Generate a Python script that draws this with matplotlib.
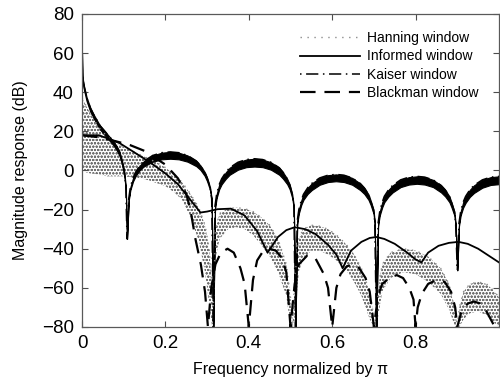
import numpy as np
import matplotlib
matplotlib.use('Agg')
import matplotlib.pyplot as plt

plt.rcParams['font.family'] = ['Liberation Sans', 'DejaVu Sans']
plt.rcParams['hatch.linewidth'] = 0.6

# Hanning window (dotted band: upper / lower envelope)
hann_x = [0.0, 0.01, 0.02, 0.04, 0.06, 0.08, 0.10, 0.12, 0.14, 0.16, 0.18, 0.20, 0.22, 0.24, 0.26, 0.28,
          0.295, 0.305, 0.312,
          0.315, 0.32, 0.33, 0.35, 0.37, 0.39, 0.41, 0.43, 0.45, 0.47, 0.49, 0.50, 0.505,
          0.51, 0.52, 0.53, 0.55, 0.57, 0.59, 0.61, 0.63, 0.65, 0.67, 0.69, 0.70, 0.705,
          0.71, 0.72, 0.74, 0.77, 0.80, 0.83, 0.86, 0.88, 0.895, 0.90,
          0.905, 0.915, 0.93, 0.95, 0.97, 0.99, 1.0]
hann_top = [37, 33, 29, 22, 17.5, 14, 12, 10, 8, 6, 4, 1.5, -2, -6, -12, -19,
            -28, -40, -60,
            -70, -30, -22, -19.5, -19, -19.5, -21, -24, -28, -35, -48, -65, -80,
            -55, -35, -30, -28, -28.5, -30, -33, -37, -42, -50, -62, -75, -80,
            -60, -48, -42, -40, -41, -44, -50, -58, -72, -80,
            -70, -62, -58, -57, -58, -62, -65]
hann_bot = [0, -1, -1.5, -2, -3, -3, -3, -3.5, -4, -5, -6.5, -8, -11, -15, -24, -36,
            -52, -68, -80,
            -80, -45, -35, -30, -29, -30, -33, -38, -44, -52, -64, -80, -80,
            -75, -52, -45, -41, -41, -43, -46, -50, -56, -64, -76, -80, -80,
            -75, -62, -55, -52, -53, -57, -63, -71, -80, -80,
            -80, -76, -73, -72, -74, -78, -80]

# Informed window (thin solid)
inf_x = [0, 0.04, 0.06, 0.09, 0.12, 0.164, 0.2, 0.23, 0.26, 0.284, 0.30, 0.325, 0.357, 0.39, 0.42, 0.445,
         0.47, 0.49, 0.51, 0.535, 0.56, 0.59, 0.61, 0.625, 0.645, 0.67, 0.69, 0.706, 0.725, 0.75, 0.78,
         0.80, 0.814, 0.83, 0.855, 0.88, 0.903, 0.925, 0.95, 0.975, 1.0]
inf_db = [18, 18, 16.5, 14, 10, 4, -1.5, -7, -15, -21.5, -21, -19.8, -19.5, -23, -31, -42,
          -34, -30.5, -29, -30, -32.5, -38, -43, -50, -41, -36.5, -34.5, -34, -35, -37.5, -42,
          -45.5, -47, -42, -38.5, -37, -36.5, -37.5, -40, -43.5, -47]

# Kaiser window (thick black band: upper / lower envelope)
kai_x = [0.0, 0.001, 0.005, 0.011, 0.02, 0.027, 0.035, 0.043, 0.055, 0.067, 0.075, 0.084, 0.09, 0.096,
         0.101, 0.105, 0.108,
         0.112, 0.116, 0.1225, 0.129, 0.139, 0.149, 0.170, 0.191, 0.2115, 0.232, 0.253, 0.274, 0.284,
         0.294, 0.300, 0.307, 0.311, 0.315,
         0.319, 0.323, 0.329, 0.335, 0.345, 0.354, 0.374, 0.394, 0.4135, 0.433, 0.453, 0.473, 0.482,
         0.492, 0.498, 0.504, 0.508, 0.512,
         0.516, 0.520, 0.526, 0.531, 0.541, 0.551, 0.570, 0.590, 0.609, 0.628, 0.648, 0.667, 0.677,
         0.687, 0.692, 0.699, 0.702, 0.706,
         0.710, 0.714, 0.720, 0.725, 0.735, 0.745, 0.764, 0.784, 0.803, 0.822, 0.842, 0.861, 0.871,
         0.881, 0.886, 0.893, 0.896, 0.900,
         0.904, 0.908, 0.914, 0.920, 0.930, 0.940, 0.960, 0.980, 1.0]
kai_top = [60, 48, 43, 37.5, 32, 29, 26, 23, 20, 17, 15, 12, 9.5, 5,
           0, -8, -35,
           -14.5, -8.5, -3.7, -0.7, 2.6, 4.9, 7.7, 9.1, 9.5, 9.1, 7.7, 4.9, 2.6,
           -0.7, -3.7, -8.5, -14.5, -80,
           -18, -12, -7.2, -4.2, -0.9, 1.4, 4.2, 5.6, 6, 5.6, 4.2, 1.4, -0.9,
           -4.2, -7.2, -12, -18, -80,
           -26, -20, -15.2, -12.2, -8.9, -6.6, -3.8, -2.4, -2, -2.4, -3.8, -6.6, -8.9,
           -12.2, -15.2, -20, -26, -80,
           -27, -21, -16.2, -13.2, -9.9, -7.6, -4.8, -3.4, -3, -3.4, -4.8, -7.6, -9.9,
           -13.2, -16.2, -21, -27, -51,
           -27, -21, -16.2, -13.2, -9.9, -7.6, -4.8, -3.4, -3]
kai_bot = [60, 46, 41, 35.5, 30, 27, 24, 21, 18, 15, 13, 10, 7.5, 3,
           -2, -10, -35,
           -15.5, -10, -5.5, -2.7, 0.3, 2.2, 4.5, 5.7, 6, 5.7, 4.5, 2.2, 0.3,
           -2.7, -5.5, -10, -15.5, -80,
           -19.5, -14, -9.6, -7, -4.2, -2.2, 0.4, 1.7, 2, 1.7, 0.4, -2.2, -4.2,
           -7, -9.6, -14, -19.5, -80,
           -27.5, -22, -17.5, -15, -12, -10, -7.3, -5.9, -5.5, -5.9, -7.3, -10, -12,
           -15, -17.5, -22, -27.5, -80,
           -28.5, -23, -18.8, -16.2, -13.3, -11.2, -8.5, -7.2, -6.8, -7.2, -8.5, -11.2, -13.3,
           -16.2, -18.8, -23, -28.5, -51,
           -28.5, -23, -19, -16.5, -13.5, -11.5, -8.8, -7.4, -7]

# Blackman window (dashed)
bl_x = [0, 0.04, 0.08, 0.115, 0.15, 0.2, 0.23, 0.25, 0.26, 0.272, 0.285, 0.295, 0.302,
        0.31, 0.32, 0.333, 0.349, 0.364, 0.38, 0.39, 0.40,
        0.41, 0.42, 0.435, 0.45, 0.465, 0.48, 0.49, 0.50,
        0.51, 0.52, 0.54, 0.56, 0.58, 0.59, 0.60,
        0.61, 0.62, 0.635, 0.65, 0.665, 0.68, 0.69, 0.70,
        0.71, 0.72, 0.74, 0.755, 0.77, 0.785, 0.795, 0.80,
        0.805, 0.815, 0.83, 0.85, 0.87, 0.885, 0.895, 0.90,
        0.91, 0.925, 0.94, 0.955, 0.97, 0.98, 0.99]
bl_db = [18, 17, 15, 13, 10, 3, -4, -12, -20, -35, -48, -62, -80,
         -60, -48, -42, -40, -42, -50, -58, -80,
         -56, -46, -41, -40, -41, -45, -52, -80,
         -58, -48, -43.5, -45, -53, -60, -80,
         -60, -53, -49, -48, -50, -55, -62, -80,
         -64, -58, -54.5, -53.5, -55, -60, -66, -80,
         -70, -63, -58, -56, -57, -62, -70, -80,
         -72, -68, -67, -68, -72, -76, -80]

fig = plt.figure(figsize=(5.0, 3.78), dpi=100)
ax = fig.add_axes([0.164, 0.135, 0.834, 0.828])

ax.fill_between(hann_x, hann_bot, hann_top, facecolor='none', edgecolor='0.45',
                linewidth=0, hatch='ooooo')
l_hann, = ax.plot(hann_x, hann_top, color='0.55', lw=1.0, dashes=(1, 4))
l_bl, = ax.plot(bl_x, bl_db, color='k', lw=1.6, dashes=(7, 4))
l_inf, = ax.plot(inf_x, inf_db, color='k', lw=1.3)
ax.fill_between(kai_x, kai_bot, kai_top, color='k', linewidth=0.8)
l_kai, = ax.plot(kai_x, kai_top, color='k', lw=1.1, dashes=(1, 3, 8, 3))

ax.set_xlim(0, 1)
ax.set_ylim(-80, 80)
ax.set_xticks([0, 0.2, 0.4, 0.6, 0.8])
ax.set_xticklabels(['0', '0.2', '0.4', '0.6', '0.8'])
ax.set_yticks(np.arange(-80, 81, 20))
ax.tick_params(direction='in', top=True, right=True, length=4, width=0.8,
               labelsize=13.5, color='0.3', pad=6)
for s in ax.spines.values():
    s.set_color('0.35')
    s.set_linewidth(0.9)

ax.set_xlabel('Frequency normalized by \u03c0', fontsize=11.5, labelpad=7)
ax.set_ylabel('Magnitude response (dB)', fontsize=11.5, labelpad=10)

ax.legend([l_hann, l_inf, l_kai, l_bl],
          ['Hanning window', 'Informed window', 'Kaiser window', 'Blackman window'],
          loc='upper left', bbox_to_anchor=(0.523, 0.945), frameon=False, fontsize=10,
          handlelength=4.3, handletextpad=0.55, labelspacing=0.3, borderpad=0, borderaxespad=0)

fig.savefig('out.png', dpi=100)
